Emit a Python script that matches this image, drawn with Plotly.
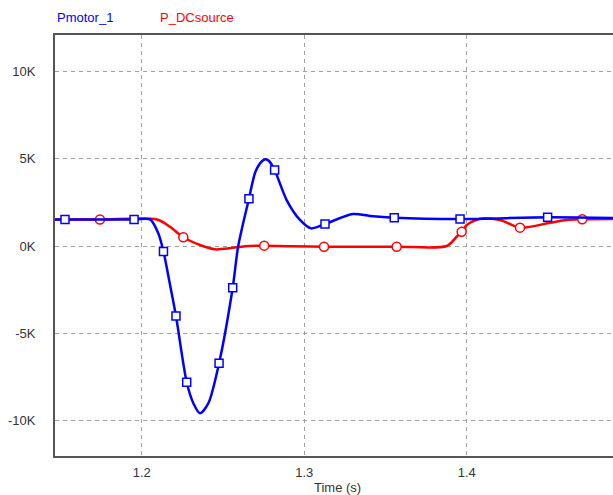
import plotly.graph_objects as go

# ---- data (time in s, power in W) ----
blue_curve_t = [1.1466, 1.2051, 1.2102, 1.2174, 1.2318, 1.2359, 1.2410, 1.2594,
                1.2700, 1.2740, 1.2763, 1.2785, 1.2892, 1.2974, 1.3042, 1.3300,
                1.3405, 1.4900]
blue_curve_v = [1520, 1520, 730, -2200, -9000, -9570, -9000, 0,
                4250, 4850, 4960, 4850, 2630, 1490, 1010, 1830,
                1720, 1600]
blue_mark_t = [1.1528, 1.1953, 1.2134, 1.2211, 1.2277, 1.2476, 1.2560, 1.2660,
               1.2818, 1.3128, 1.3554, 1.3959, 1.4498]
blue_mark_v = [1520, 1520, -315, -4005, -7800, -6710, -2390, 2710,
               4350, 1260, 1620, 1545, 1640]

red_curve_t = [1.1466, 1.2094, 1.2174, 1.2359, 1.2451, 1.2543, 1.2636, 1.2913,
               1.3877, 1.3938, 1.4000, 1.4082, 1.4205, 1.4513, 1.4615, 1.4900]
red_curve_v = [1520, 1520, 1100, 60, -190, -130, -10, -20,
               0, 530, 1200, 1560, 1490, 1330, 1490, 1545]
red_mark_t = [1.1743, 1.2256, 1.2754, 1.3122, 1.3569, 1.3969, 1.4328, 1.4711]
red_mark_v = [1520, 500, 20, -40, -40, 820, 1050, 1530]

x_ticks = [1.2, 1.3, 1.4]
x_labels = ["1.2", "1.3", "1.4"]
y_ticks = [-10000, -5000, 0, 5000, 10000]
y_labels = ["-10K", "-5K", "0K", "5K", "10K"]

BLUE = "#0000ff"
RED = "#ff0000"
FONT = "Liberation Sans, Arial, sans-serif"


def merged(ct, cv, mt, mv):
    pts = sorted(zip(ct + mt, cv + mv))
    return [p[0] for p in pts], [p[1] for p in pts]


fig = go.Figure()
for ct, cv, mt, mv, col, sym, sz, name in [
    (red_curve_t, red_curve_v, red_mark_t, red_mark_v, RED, "circle", 9, "P_DCsource"),
    (blue_curve_t, blue_curve_v, blue_mark_t, blue_mark_v, BLUE, "square", 8, "Pmotor_1"),
]:
    lt, lv = merged(ct, cv, mt, mv)
    fig.add_trace(go.Scatter(x=lt, y=lv, mode="lines", name=name,
                             line=dict(color=col, width=2.5, shape="spline", smoothing=0.8),
                             showlegend=False, hoverinfo="skip"))
    fig.add_trace(go.Scatter(x=mt, y=mv, mode="markers", name=name,
                             marker=dict(symbol=sym, size=sz, color="white",
                                         line=dict(color=col, width=1.5)),
                             showlegend=False))

# legend as coloured text
fig.add_annotation(x=0, y=1, xref="paper", yref="paper", xanchor="left", yanchor="bottom",
                   yshift=8, text="Pmotor_1", showarrow=False,
                   font=dict(family=FONT, size=13, color=BLUE))
fig.add_annotation(x=(158 - 55) / 558, y=1, xref="paper", yref="paper", xanchor="left",
                   yanchor="bottom", yshift=8, text="P_DCsource", showarrow=False,
                   font=dict(family=FONT, size=13, color=RED))
# x-axis title
fig.add_annotation(x=(337 - 55) / 558, y=0, xref="paper", yref="paper", xanchor="center",
                   yanchor="middle", yshift=-31, text="Time (s)", showarrow=False,
                   font=dict(family=FONT, size=13, color="#333333"))

fig.update_layout(
    width=613, height=495,
    margin=dict(l=55, r=0, t=35, b=39, autoexpand=False),
    paper_bgcolor="white", plot_bgcolor="white",
    font=dict(family=FONT, size=13, color="#333333"),
    xaxis=dict(range=[1.14665, 1.49003], tickvals=x_ticks, ticktext=x_labels,
               showgrid=True, gridcolor="#a0a0a0", griddash="4px,4px", gridwidth=1,
               showline=True, linecolor="#555555", linewidth=2, mirror=True,
               ticks="", ticklabelstandoff=3, zeroline=False, automargin=False),
    yaxis=dict(range=[-12020, 12078], tickvals=y_ticks, ticktext=y_labels,
               showgrid=True, gridcolor="#a0a0a0", griddash="4px,4px", gridwidth=1,
               showline=True, linecolor="#555555", linewidth=2, mirror=False,
               ticks="", ticklabelstandoff=15, zeroline=False, automargin=False),
)

fig.write_html("out.html")
